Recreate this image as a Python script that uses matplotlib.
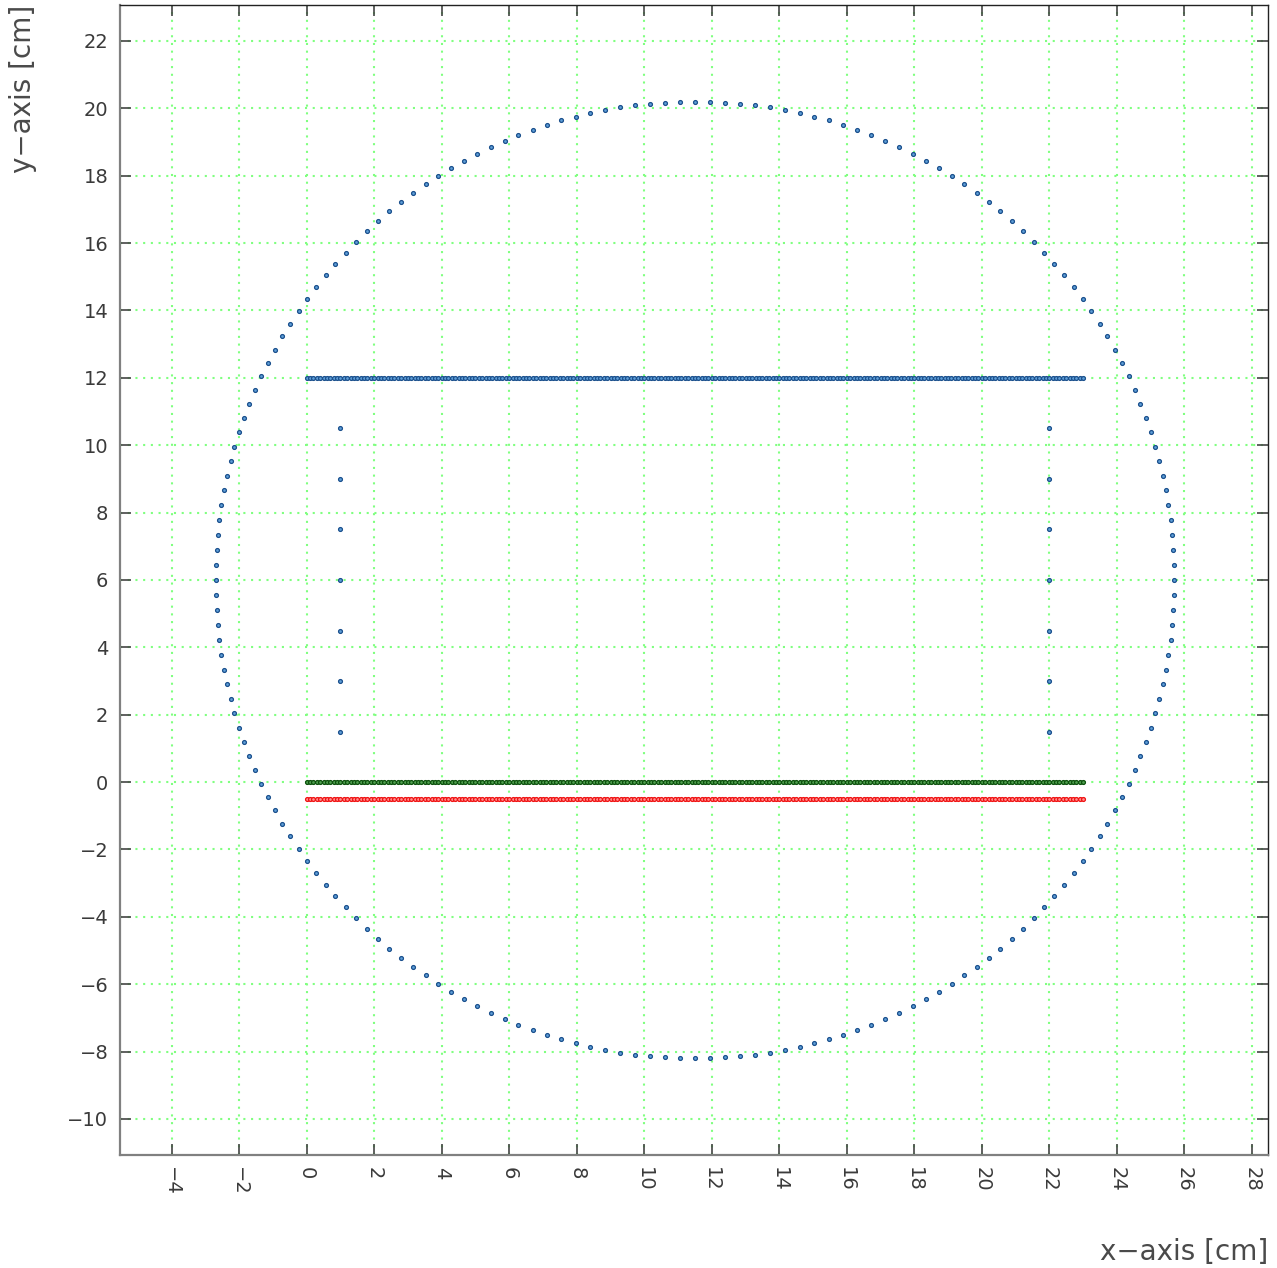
"""
Detector layout: circular boundary + strip rows, ROOT style scatter
"""
import matplotlib
matplotlib.use('Agg')
import matplotlib.pyplot as plt

plt.rcParams['font.family'] = ['DejaVu Sans']
plt.rcParams['axes.unicode_minus'] = True

# ---- data (cm) ----
# outer ring, 200 points
CIRCLE_X = [
    25.70, 25.69, 25.67, 25.64, 25.59, 25.53, 25.45, 25.36, 25.25, 25.14, 25.01, 24.86, 24.70, 24.53, 24.35, 24.15, 23.94,
    23.72, 23.49, 23.24, 22.99, 22.72, 22.44, 22.15, 21.85, 21.54, 21.22, 20.89, 20.55, 20.20, 19.85, 19.48, 19.11, 18.73,
    18.34, 17.95, 17.55, 17.14, 16.73, 16.31, 15.89, 15.46, 15.03, 14.60, 14.16, 13.72, 13.28, 12.84, 12.39, 11.95,
    11.50, 11.05, 10.61, 10.16, 9.72, 9.28, 8.84, 8.40, 7.97, 7.54, 7.11, 6.69, 6.27, 5.86, 5.45, 5.05, 4.66, 4.27, 3.89,
    3.52, 3.15, 2.80, 2.45, 2.11, 1.78, 1.46, 1.15, 0.85, 0.56, 0.28, 0.01, -0.24, -0.49, -0.72, -0.94, -1.15, -1.35,
    -1.53, -1.70, -1.86, -2.01, -2.14, -2.25, -2.36, -2.45, -2.53, -2.59, -2.64, -2.67, -2.69,
    -2.70, -2.69, -2.67, -2.64, -2.59, -2.53, -2.45, -2.36, -2.25, -2.14, -2.01, -1.86, -1.70, -1.53, -1.35, -1.15,
    -0.94, -0.72, -0.49, -0.24, 0.01, 0.28, 0.56, 0.85, 1.15, 1.46, 1.78, 2.11, 2.45, 2.80, 3.15, 3.52, 3.89, 4.27, 4.66,
    5.05, 5.45, 5.86, 6.27, 6.69, 7.11, 7.54, 7.97, 8.40, 8.84, 9.28, 9.72, 10.16, 10.61, 11.05,
    11.50, 11.95, 12.39, 12.84, 13.28, 13.72, 14.16, 14.60, 15.03, 15.46, 15.89, 16.31, 16.73, 17.14, 17.55, 17.95,
    18.34, 18.73, 19.11, 19.48, 19.85, 20.20, 20.55, 20.89, 21.22, 21.54, 21.85, 22.15, 22.44, 22.72, 22.99, 23.24,
    23.49, 23.72, 23.94, 24.15, 24.35, 24.53, 24.70, 24.86, 25.01, 25.14, 25.25, 25.36, 25.45, 25.53, 25.59, 25.64,
    25.67, 25.69,
]
CIRCLE_Y = [
    6.00, 6.45, 6.89, 7.34, 7.78, 8.22, 8.66, 9.10, 9.53, 9.96, 10.39, 10.81, 11.23, 11.64, 12.05, 12.45, 12.84, 13.23,
    13.61, 13.98, 14.35, 14.70, 15.05, 15.39, 15.72, 16.04, 16.35, 16.65, 16.94, 17.22, 17.49, 17.74, 17.99, 18.22,
    18.44, 18.65, 18.85, 19.03, 19.20, 19.36, 19.51, 19.64, 19.75, 19.86, 19.95, 20.03, 20.09, 20.14, 20.17, 20.19,
    20.20, 20.19, 20.17, 20.14, 20.09, 20.03, 19.95, 19.86, 19.75, 19.64, 19.51, 19.36, 19.20, 19.03, 18.85, 18.65,
    18.44, 18.22, 17.99, 17.74, 17.49, 17.22, 16.94, 16.65, 16.35, 16.04, 15.72, 15.39, 15.05, 14.70, 14.35, 13.98,
    13.61, 13.23, 12.84, 12.45, 12.05, 11.64, 11.23, 10.81, 10.39, 9.96, 9.53, 9.10, 8.66, 8.22, 7.78, 7.34, 6.89, 6.45,
    6.00, 5.55, 5.11, 4.66, 4.22, 3.78, 3.34, 2.90, 2.47, 2.04, 1.61, 1.19, 0.77, 0.36, -0.05, -0.45, -0.84, -1.23,
    -1.61, -1.98, -2.35, -2.70, -3.05, -3.39, -3.72, -4.04, -4.35, -4.65, -4.94, -5.22, -5.49, -5.74, -5.99, -6.22,
    -6.44, -6.65, -6.85, -7.03, -7.20, -7.36, -7.51, -7.64, -7.75, -7.86, -7.95, -8.03, -8.09, -8.14, -8.17, -8.19,
    -8.20, -8.19, -8.17, -8.14, -8.09, -8.03, -7.95, -7.86, -7.75, -7.64, -7.51, -7.36, -7.20, -7.03, -6.85, -6.65,
    -6.44, -6.22, -5.99, -5.74, -5.49, -5.22, -4.94, -4.65, -4.35, -4.04, -3.72, -3.39, -3.05, -2.70, -2.35, -1.98,
    -1.61, -1.23, -0.84, -0.45, -0.05, 0.36, 0.77, 1.19, 1.61, 2.04, 2.47, 2.90, 3.34, 3.78, 4.22, 4.66, 5.11, 5.55,
]

# strip positions along x (0.1 cm pitch), shared by the three rows
ROW_X = [
    0.0, 0.1, 0.2, 0.3, 0.4, 0.5, 0.6, 0.7, 0.8, 0.9,
    1.0, 1.1, 1.2, 1.3, 1.4, 1.5, 1.6, 1.7, 1.8, 1.9,
    2.0, 2.1, 2.2, 2.3, 2.4, 2.5, 2.6, 2.7, 2.8, 2.9,
    3.0, 3.1, 3.2, 3.3, 3.4, 3.5, 3.6, 3.7, 3.8, 3.9,
    4.0, 4.1, 4.2, 4.3, 4.4, 4.5, 4.6, 4.7, 4.8, 4.9,
    5.0, 5.1, 5.2, 5.3, 5.4, 5.5, 5.6, 5.7, 5.8, 5.9,
    6.0, 6.1, 6.2, 6.3, 6.4, 6.5, 6.6, 6.7, 6.8, 6.9,
    7.0, 7.1, 7.2, 7.3, 7.4, 7.5, 7.6, 7.7, 7.8, 7.9,
    8.0, 8.1, 8.2, 8.3, 8.4, 8.5, 8.6, 8.7, 8.8, 8.9,
    9.0, 9.1, 9.2, 9.3, 9.4, 9.5, 9.6, 9.7, 9.8, 9.9,
    10.0, 10.1, 10.2, 10.3, 10.4, 10.5, 10.6, 10.7, 10.8, 10.9,
    11.0, 11.1, 11.2, 11.3, 11.4, 11.5, 11.6, 11.7, 11.8, 11.9,
    12.0, 12.1, 12.2, 12.3, 12.4, 12.5, 12.6, 12.7, 12.8, 12.9,
    13.0, 13.1, 13.2, 13.3, 13.4, 13.5, 13.6, 13.7, 13.8, 13.9,
    14.0, 14.1, 14.2, 14.3, 14.4, 14.5, 14.6, 14.7, 14.8, 14.9,
    15.0, 15.1, 15.2, 15.3, 15.4, 15.5, 15.6, 15.7, 15.8, 15.9,
    16.0, 16.1, 16.2, 16.3, 16.4, 16.5, 16.6, 16.7, 16.8, 16.9,
    17.0, 17.1, 17.2, 17.3, 17.4, 17.5, 17.6, 17.7, 17.8, 17.9,
    18.0, 18.1, 18.2, 18.3, 18.4, 18.5, 18.6, 18.7, 18.8, 18.9,
    19.0, 19.1, 19.2, 19.3, 19.4, 19.5, 19.6, 19.7, 19.8, 19.9,
    20.0, 20.1, 20.2, 20.3, 20.4, 20.5, 20.6, 20.7, 20.8, 20.9,
    21.0, 21.1, 21.2, 21.3, 21.4, 21.5, 21.6, 21.7, 21.8, 21.9,
    22.0, 22.1, 22.2, 22.3, 22.4, 22.5, 22.6, 22.7, 22.8, 22.9,
    23.0,
]
ROW_Y_TOP = 12.0     # blue row
ROW_Y_MID = 0.0      # green row
ROW_Y_LOW = -0.5     # red row

# sparse vertical columns
COL_LEFT_X = [1.0, 1.0, 1.0, 1.0, 1.0, 1.0, 1.0]
COL_RIGHT_X = [22.0, 22.0, 22.0, 22.0, 22.0, 22.0, 22.0]
COL_Y = [1.5, 3.0, 4.5, 6.0, 7.5, 9.0, 10.5]

X_TICKS = [-4, -2, 0, 2, 4, 6, 8, 10, 12, 14, 16, 18, 20, 22, 24, 26, 28]
Y_TICKS = [-10, -8, -6, -4, -2, 0, 2, 4, 6, 8, 10, 12, 14, 16, 18, 20, 22]

BLUE = '#1a4f8c'
BLUE_FILL = '#5f9fd8'
GREEN = '#0c4f0c'
GREEN_FILL = '#4fa04f'
RED = '#f01010'
RED_FILL = '#ff9090'

fig = plt.figure(figsize=(12.77, 12.68), dpi=100)
ax = fig.add_axes([0.094, 0.0891, 0.899, 0.907])

mk = dict(linestyle='none', marker='o', markersize=2.8, markeredgewidth=0.9)

ax.plot(CIRCLE_X, CIRCLE_Y, color=BLUE, markerfacecolor=BLUE_FILL, **mk)
ax.plot(ROW_X, [ROW_Y_TOP] * len(ROW_X), color=BLUE, markerfacecolor=BLUE_FILL, **mk)
ax.plot(ROW_X, [ROW_Y_MID] * len(ROW_X), color=GREEN, markerfacecolor=GREEN_FILL, **mk)
ax.plot(ROW_X, [ROW_Y_LOW] * len(ROW_X), color=RED, markerfacecolor=RED_FILL, **mk)
ax.plot(COL_LEFT_X, COL_Y, color=BLUE, markerfacecolor=BLUE_FILL, **mk)
ax.plot(COL_RIGHT_X, COL_Y, color=BLUE, markerfacecolor=BLUE_FILL, **mk)

ax.set_xlim(-5.53, 28.48)
ax.set_ylim(-11.07, 23.07)

ax.set_xticks(X_TICKS)
ax.set_yticks(Y_TICKS)
ax.grid(True, color='#80ff80', linestyle=(0, (1, 2.7)), linewidth=1.5)
ax.set_axisbelow(True)

ax.tick_params(direction='in', length=8, width=1.2, color='#444444',
               top=True, right=True, labelsize=14, labelcolor='#3a3a3a', pad=8.5)
plt.setp(ax.get_xticklabels(), rotation=-90, ha='center', va='top')

for side in ['left', 'bottom']:
    ax.spines[side].set_color('#808080')
    ax.spines[side].set_linewidth(1.6)
for side in ['top', 'right']:
    ax.spines[side].set_color('#222222')
    ax.spines[side].set_linewidth(1.0)

ax.set_xlabel('x\u2212axis [cm]', fontsize=20, color='#4a4a4a', loc='right')
ax.set_ylabel('y\u2212axis [cm]', fontsize=20, color='#4a4a4a', loc='top')
ax.xaxis.set_label_coords(1.0, -0.072)
ax.yaxis.set_label_coords(-0.072, 1.0)

plt.savefig('out.png', dpi=100)
plt.close()
